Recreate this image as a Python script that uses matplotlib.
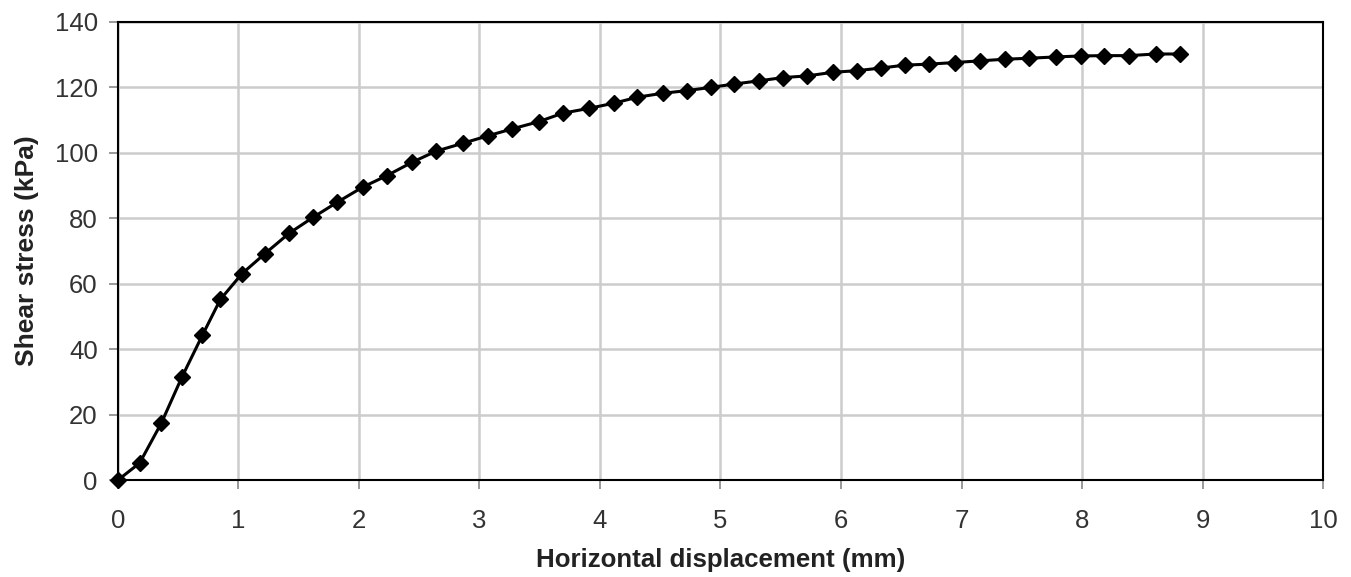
import matplotlib
matplotlib.use("Agg")
import matplotlib.pyplot as plt

displacement_mm = [0.00, 0.18, 0.36, 0.53, 0.70, 0.85, 1.03, 1.22, 1.42, 1.62,
                   1.82, 2.03, 2.23, 2.44, 2.64, 2.86, 3.07, 3.27, 3.49, 3.69,
                   3.91, 4.12, 4.31, 4.52, 4.72, 4.92, 5.11, 5.32, 5.52, 5.72,
                   5.93, 6.13, 6.33, 6.53, 6.73, 6.95, 7.15, 7.36, 7.56, 7.78,
                   7.99, 8.18, 8.39, 8.61, 8.81]
shear_kpa = [0.0, 5.2, 17.4, 31.4, 44.2, 55.2, 63.1, 69.2, 75.4, 80.3,
             84.9, 89.5, 93.0, 97.1, 100.5, 102.9, 105.2, 107.3, 109.5, 112.1,
             113.6, 115.2, 117.0, 118.2, 119.0, 120.0, 121.0, 122.0, 123.0, 123.5,
             124.6, 125.1, 125.9, 126.8, 127.1, 127.6, 128.1, 128.6, 128.9, 129.3,
             129.6, 129.7, 129.7, 130.2, 130.2]
x_ticks = list(range(0, 11))
y_ticks = list(range(0, 141, 20))

plt.rcParams['font.family'] = ['Liberation Sans', 'DejaVu Sans']

fig = plt.figure(figsize=(13.51, 5.77), dpi=100)
ax = fig.add_axes([0.0873, 0.168, 0.8920, 0.794])

ax.plot(displacement_mm, shear_kpa, color='black', linewidth=2.2,
        marker='D', markersize=8, markerfacecolor='black',
        markeredgecolor='black', clip_on=False, zorder=3)

ax.set_xlim(0, 10)
ax.set_ylim(0, 140)
ax.set_xticks(x_ticks)
ax.set_yticks(y_ticks)
ax.grid(True, color='#cccccc', linewidth=1.8)
ax.set_axisbelow(True)

for s in ax.spines.values():
    s.set_color('black')
    s.set_linewidth(1.5)

ax.tick_params(axis='both', direction='out', length=6.5, width=1.2,
               color='#888888', labelsize=18.5, labelcolor='#333333')
ax.tick_params(axis='x', pad=14)
ax.tick_params(axis='y', pad=8)

ax.set_xlabel('Horizontal displacement (mm)', fontsize=18.6, fontweight='bold',
              color='#222222', labelpad=11)
ax.set_ylabel('Shear stress (kPa)', fontsize=19, fontweight='bold',
              color='#222222', labelpad=11)

fig.savefig('out.png', dpi=100)
